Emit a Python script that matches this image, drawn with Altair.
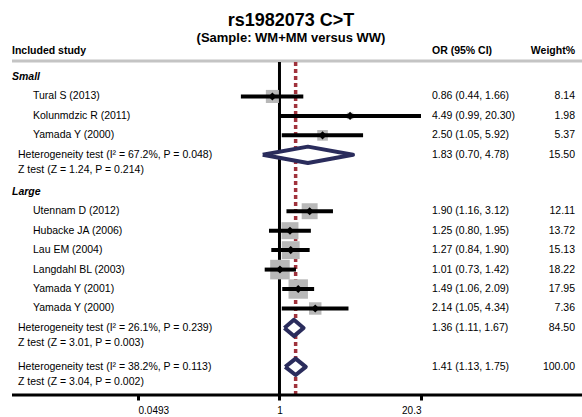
import altair as alt
import pandas as pd

FONT = "Liberation Sans"

# ---- data ----
study_names = ["Tural S (2013)", "Kolunmdzic R (2011)", "Yamada Y (2000)",
               "Utennam D (2012)", "Hubacke JA (2006)", "Lau EM (2004)",
               "Langdahl BL (2003)", "Yamada Y (2001)", "Yamada Y (2000)"]
study_or = [0.86, 4.49, 2.50, 1.90, 1.25, 1.27, 1.01, 1.49, 2.14]
study_lo = [0.44, 0.99, 1.05, 1.16, 0.80, 0.84, 0.73, 1.06, 1.05]
study_hi = [1.66, 20.30, 5.92, 3.12, 1.95, 1.90, 1.42, 2.09, 4.34]
study_w = [8.14, 1.98, 5.37, 12.11, 13.72, 15.13, 18.22, 17.95, 7.36]
study_row = [1, 2, 3, 6.9, 7.9, 8.9, 9.9, 10.9, 11.9]

group_names = ["Small", "Large"]
group_row = [0, 5.9]

pooled_id = ["small", "large", "overall"]
pooled_or = [1.83, 1.36, 1.41]
pooled_lo = [0.70, 1.11, 1.13]
pooled_hi = [4.78, 1.67, 1.75]
pooled_w = [15.50, 84.50, 100.00]
pooled_row = [4, 12.9, 14.9]
het_text = ["Heterogeneity test (I² = 67.2%, P = 0.048)",
            "Heterogeneity test (I² = 26.1%, P = 0.239)",
            "Heterogeneity test (I² = 38.2%, P = 0.113)"]
z_text = ["Z test (Z = 1.24, P = 0.214)",
          "Z test (Z = 3.01, P = 0.003)",
          "Z test (Z = 3.04, P = 0.002)"]
z_row = [4.8, 13.7, 15.7]

header_row = -1.34
pooled_line = 1.41
tick_values = [0.0493, 1, 20.3]
x_domain = [0.0493, 20.3]

# ---- tables ----
studies = pd.DataFrame({"name": study_names, "or": study_or, "lo": study_lo,
                        "hi": study_hi, "w": study_w, "row": study_row})
studies["ortext"] = [f"{o:.2f} ({l:.2f}, {h:.2f})" for o, l, h in zip(study_or, study_lo, study_hi)]
studies["wtext"] = [f"{w:.2f}" for w in study_w]

groups = pd.DataFrame({"name": group_names, "row": group_row})

pooled = pd.DataFrame({"id": pooled_id, "or": pooled_or, "lo": pooled_lo, "hi": pooled_hi,
                       "w": pooled_w, "row": pooled_row, "het": het_text})
pooled["ortext"] = [f"{o:.2f} ({l:.2f}, {h:.2f})" for o, l, h in zip(pooled_or, pooled_lo, pooled_hi)]
pooled["wtext"] = [f"{w:.2f}" for w in pooled_w]
ztab = pd.DataFrame({"txt": z_text, "row": z_row})

H = 0.42  # half-height of pooled diamond in row units
area_rows, line_rows = [], []
for i, pid in enumerate(pooled_id):
    r, o, l, h = pooled_row[i], pooled_or[i], pooled_lo[i], pooled_hi[i]
    area_rows += [dict(id=pid, x=l, y=r, y2=r), dict(id=pid, x=o, y=r - H, y2=r + H),
                  dict(id=pid, x=h, y=r, y2=r)]
    pts = [(l, r), (o, r - H), (h, r), (o, r + H), (l, r)]
    for k, (px, py) in enumerate(pts):
        line_rows.append(dict(id=pid, x=px, y=py, k=k))
diam_area = pd.DataFrame(area_rows)
diam_line = pd.DataFrame(line_rows)

hdr = pd.DataFrame({"row": [header_row]})

PT = 51
HEIGHT = 395 - PT
xs = alt.Scale(type="log", domain=x_domain, range=[138, 421], nice=False)
ys = alt.Scale(domain=[0, 15.7], range=[77 - PT, 382.4 - PT], nice=False, zero=False)
X = lambda f: alt.X(f, type="quantitative", scale=xs,
                    axis=alt.Axis(values=tick_values, format=".3~g", title=None, domain=False,
                                  grid=False, tickSize=5, tickWidth=3, tickColor="black",
                                  labelFontSize=10, labelFont=FONT, labelColor="black",
                                  labelPadding=5))
Y = lambda f: alt.Y(f, type="quantitative", scale=ys, axis=None)

base_s = alt.Chart(studies)

vline = alt.Chart(hdr).mark_rule(color="black", strokeWidth=3).encode(
    x=alt.datum(1, scale=xs), y=alt.value(62 - PT), y2=alt.value(HEIGHT))
dline = alt.Chart(hdr).mark_rule(color="#a0323c", strokeWidth=3.5, strokeDash=[4, 3]).encode(
    x=alt.datum(pooled_line), y=alt.value(62 - PT), y2=alt.value(HEIGHT))
axisline = alt.Chart(hdr).mark_rule(color="black", strokeWidth=3).encode(
    x=alt.value(12), x2=alt.value(582), y=alt.value(HEIGHT))
hdrline = alt.Chart(hdr).mark_rule(color="#c4c4c4", strokeWidth=3).encode(
    x=alt.value(12), x2=alt.value(582), y=alt.value(61 - PT))

squares = base_s.mark_square(color="#b8b8b8", opacity=1).encode(
    x=X("or"), y=Y("row"),
    size=alt.Size("w:Q", scale=alt.Scale(domain=[0, 20], range=[0, 420]), legend=None))
ci = base_s.mark_rule(color="black", strokeWidth=4).encode(x=X("lo"), x2="hi", y=Y("row"))
pts = base_s.mark_point(shape="diamond", filled=True, color="black", size=65, opacity=1).encode(
    x=X("or"), y=Y("row"))

d_area = alt.Chart(diam_area).mark_area(color="white", opacity=1, orient="vertical").encode(
    x=X("x"), y=Y("y"), y2="y2", detail="id:N")
d_line = alt.Chart(diam_line).mark_line(color="#2a2c5c", strokeWidth=4, strokeJoin="round").encode(
    x=X("x"), y=Y("y"), order="k:Q", detail="id:N")

tkw = dict(font=FONT, fontSize=10.5, color="black", baseline="middle")
t_groups = alt.Chart(groups).mark_text(align="left", fontWeight="bold", fontStyle="italic", **tkw).encode(
    x=alt.value(12), y=Y("row"), text="name:N")
t_names = base_s.mark_text(align="left", **tkw).encode(x=alt.value(33), y=Y("row"), text="name:N")
t_or = base_s.mark_text(align="left", **tkw).encode(x=alt.value(432), y=Y("row"), text="ortext:N")
t_w = base_s.mark_text(align="right", **tkw).encode(x=alt.value(575), y=Y("row"), text="wtext:N")
t_het = alt.Chart(pooled).mark_text(align="left", **tkw).encode(x=alt.value(18), y=Y("row"), text="het:N")
t_por = alt.Chart(pooled).mark_text(align="left", **tkw).encode(x=alt.value(432), y=Y("row"), text="ortext:N")
t_pw = alt.Chart(pooled).mark_text(align="right", **tkw).encode(x=alt.value(575), y=Y("row"), text="wtext:N")
t_z = alt.Chart(ztab).mark_text(align="left", **tkw).encode(x=alt.value(18), y=Y("row"), text="txt:N")

hkw = dict(font=FONT, fontSize=10.5, color="black", baseline="middle", fontWeight="bold")
h1 = alt.Chart(hdr).mark_text(align="left", text="Included study", **hkw).encode(x=alt.value(12), y=Y("row"))
h2 = alt.Chart(hdr).mark_text(align="left", text="OR (95% CI)", **hkw).encode(x=alt.value(432), y=Y("row"))
h3 = alt.Chart(hdr).mark_text(align="right", text="Weight%", **hkw).encode(x=alt.value(575), y=Y("row"))

chart = alt.layer(
    hdrline, dline, vline, squares, ci, pts, d_area, d_line, axisline,
    t_groups, t_names, t_or, t_w, t_het, t_por, t_pw, t_z, h1, h2, h3
).properties(
    width=582, height=HEIGHT,
    padding={"left": 0, "right": 0, "top": PT, "bottom": 417 - 395},
    autosize=alt.AutoSizeParams(type="none"),
    title=alt.TitleParams(text="rs1982073 C>T", subtitle="(Sample: WM+MM versus WW)",
                          anchor="middle", font=FONT, fontSize=18, fontWeight="bold", color="black",
                          subtitleFont=FONT, subtitleFontSize=13, subtitleFontWeight="bold",
                          subtitleColor="black", subtitlePadding=2, offset=1)
).configure_view(stroke=None)

chart.save("out.html", embed_options={"renderer": "svg", "actions": False})
